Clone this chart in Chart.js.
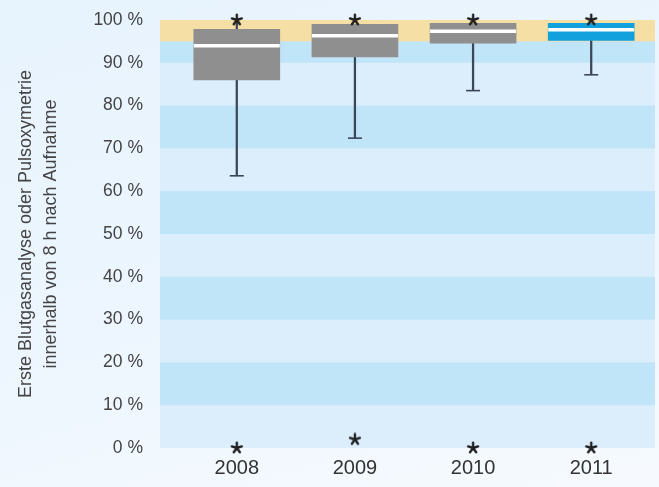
<!DOCTYPE html>
<html>
<head>
<meta charset="utf-8">
<script src="https://cdn.jsdelivr.net/npm/chart.js@4.4.1/dist/chart.umd.min.js"></script>
<style>
  html, body { margin: 0; padding: 0; }
  body {
    width: 659px; height: 487px; overflow: hidden;
    background: linear-gradient(165deg, #e7f3fd 0%, #edf6fe 55%, #f6fafe 100%);
  }
  #wrap { position: relative; width: 659px; height: 487px; }
</style>
</head>
<body>
<div id="wrap"><canvas id="boxChart"></canvas></div>
<script>
const years = ['2008', '2009', '2010', '2011'];
const q1 = [86, 91.4, 94.6, 95.2];
const medians = [94, 96.3, 97.4, 97.7];
const q3 = [97.8, 99, 99.2, 99.2];
const whiskerLow = [63.6, 72.4, 83.5, 87.2];
const whiskerHigh = [100, 99, 99.2, 99.2];
const outliersHigh = [100, 100, 100, 100];
const outliersLow = [0, 2, 0, 0];
const yTicks = [0, 10, 20, 30, 40, 50, 60, 70, 80, 90, 100];
const darkBands = [[10, 20], [30, 40], [50, 60], [70, 80], [90, 100]];
const targetBand = [95, 100];

const boxColors = ['#8f8f8f', '#8f8f8f', '#8f8f8f', '#12a1dc'];
const whiskerColor = '#3b4757';

// asterisk marker for the outliers
function makeAsterisk() {
    const c = document.createElement('canvas');
    c.width = 14; c.height = 14;
    const g = c.getContext('2d');
    g.strokeStyle = '#222';
    g.lineWidth = 2.4;
    g.lineCap = 'round';
    for (let k = 0; k < 5; k++) {
        const a = -Math.PI / 2 + k * 2 * Math.PI / 5;
        g.beginPath();
        g.moveTo(7, 7);
        g.lineTo(7 + 5.2 * Math.cos(a), 7 + 5.2 * Math.sin(a));
        g.stroke();
    }
    return c;
}
const asterisk = makeAsterisk();

const pts = (arr) => arr.map((v, i) => ({ x: i + 1, y: v }));

// alternating blue bands + yellow target zone behind the boxes
const bandsPlugin = {
    id: 'bands',
    beforeDatasetsDraw(chart) {
        const { ctx, chartArea: a, scales: { y } } = chart;
        ctx.save();
        ctx.fillStyle = '#dcedfb';
        ctx.fillRect(a.left, a.top, a.width, a.height);
        ctx.fillStyle = '#c1e5f8';
        darkBands.forEach(([lo, hi]) => {
            const t = y.getPixelForValue(hi), b = y.getPixelForValue(lo);
            ctx.fillRect(a.left, t, a.width, b - t);
        });
        ctx.fillStyle = '#f5dfa4';
        const t = y.getPixelForValue(targetBand[1]), b = y.getPixelForValue(targetBand[0]);
        ctx.fillRect(a.left, t, a.width, b - t);
        ctx.restore();
    }
};

new Chart(document.getElementById('boxChart'), {
    type: 'bar',
    data: {
        datasets: [
            { type: 'scatter', data: pts(outliersHigh), pointStyle: asterisk, clip: false, order: 0 },
            { type: 'scatter', data: pts(outliersLow), pointStyle: asterisk, clip: false, order: 0 },
            { type: 'scatter', data: pts(medians), pointStyle: 'line', radius: 43, borderWidth: 3.5, borderColor: '#ffffff', order: 1 },
            { type: 'scatter', data: pts(whiskerLow), pointStyle: 'line', radius: 7, borderWidth: 1.6, borderColor: whiskerColor, order: 2 },
            {
                type: 'bar', grouped: false, order: 3,
                data: years.map((_, i) => ({ x: i + 1, y: [q1[i], q3[i]] })),
                backgroundColor: boxColors, barThickness: 86
            },
            {
                type: 'bar', grouped: false, order: 4,
                data: years.map((_, i) => ({ x: i + 1, y: [whiskerLow[i], q1[i]] })),
                backgroundColor: whiskerColor, barThickness: 1.6
            },
            {
                type: 'bar', grouped: false, order: 4,
                data: years.map((_, i) => ({ x: i + 1, y: [q3[i], whiskerHigh[i]] })),
                backgroundColor: whiskerColor, barThickness: 1.6
            }
        ]
    },
    options: {
        responsive: true,
        maintainAspectRatio: false,
        animation: false,
        events: [],
        layout: { autoPadding: false, padding: { left: 0, right: 4, top: 20, bottom: 0 } },
        plugins: { legend: { display: false }, tooltip: { enabled: false } },
        scales: {
            x: {
                type: 'linear',
                min: 0.35,
                max: 4.54,
                offset: false,
                grid: { display: false, drawTicks: false, offset: false },
                border: { display: false },
                afterBuildTicks: (s) => { s.ticks = years.map((_, i) => ({ value: i + 1 })); },
                afterFit: (s) => { s.height = 39; },
                ticks: {
                    autoSkip: false,
                    maxRotation: 0,
                    padding: 8,
                    color: '#333',
                    font: { family: 'Liberation Sans', size: 20 },
                    callback: (v) => years[Math.round(v) - 1]
                }
            },
            y: {
                min: 0,
                max: 100,
                grid: { display: false, drawTicks: false },
                border: { display: false },
                afterBuildTicks: (s) => { s.ticks = yTicks.map(v => ({ value: v })); },
                afterFit: (s) => { s.width = 160; s.paddingTop = 0; s.paddingBottom = 0; },
                ticks: {
                    padding: 17,
                    color: '#444',
                    font: { family: 'Liberation Sans', size: 17.5 },
                    callback: (v) => v + ' %'
                },
                title: {
                    display: true,
                    text: ['Erste Blutgasanalyse oder Pulsoxymetrie', 'innerhalb von 8 h nach Aufnahme'],
                    color: '#444',
                    padding: { top: 13, bottom: 0 },
                    font: { family: 'Liberation Sans', size: 18, lineHeight: 1.4 }
                }
            }
        }
    },
    plugins: [bandsPlugin]
});
</script>
</body>
</html>
